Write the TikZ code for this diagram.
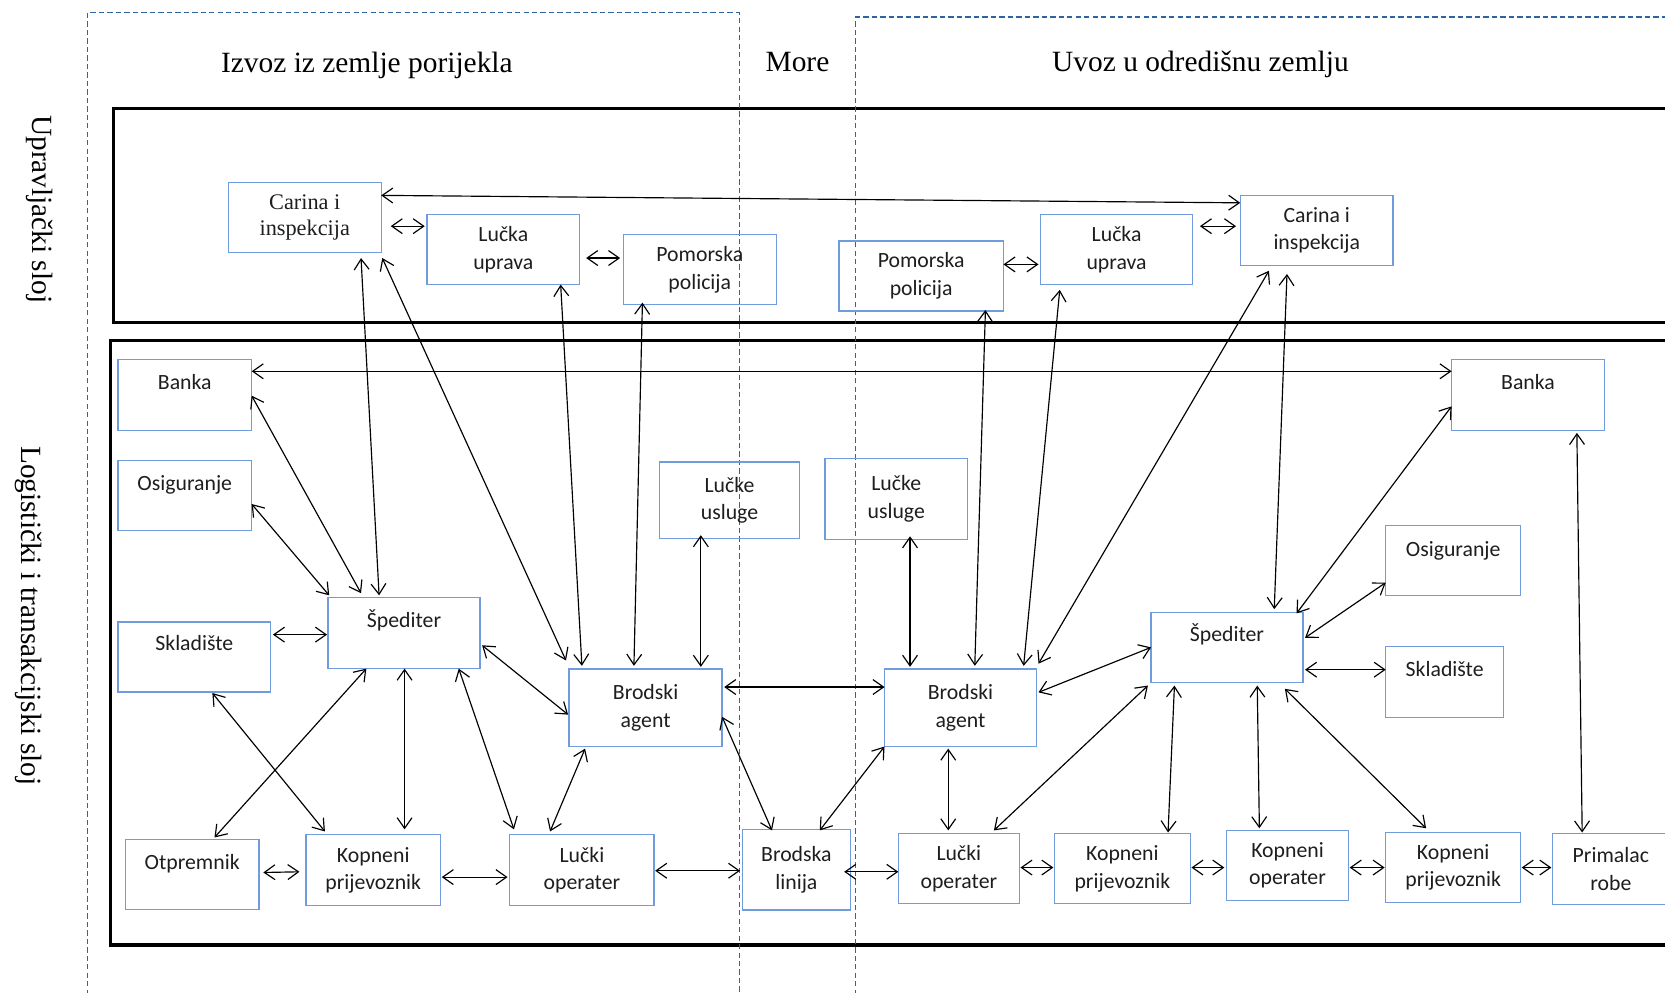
\documentclass[tikz,border=0pt]{standalone}
\usepackage{fontspec}
\setmainfont{Liberation Serif}
\newfontfamily\calfont{Carlito}
\usetikzlibrary{arrows.meta,calc}
\definecolor{boxblue}{RGB}{112,156,222}
\definecolor{dashblue}{RGB}{46,100,160}
\definecolor{txt}{RGB}{30,30,30}
\begin{document}
\begin{tikzpicture}[x=1pt,y=-1pt,
  box/.style={draw=boxblue, line width=1.3pt, inner sep=0pt, align=center, text=txt, font=\calfont\fontsize{20.5}{26}\selectfont},
  timesbox/.style={box, font=\fontsize{21}{25}\selectfont},
  topbox/.style 2 args={box, anchor=north, text height=#1, text depth=#2},
  link/.style={{Straight Barb[length=10pt,width=14pt]}-{Straight Barb[length=10pt,width=14pt]}, line width=1.1pt},
  layerbox/.style={draw=black, line width=3pt},
  region/.style={draw=dashblue, dash pattern=on 5pt off 3pt, line width=1pt},
  head/.style={font=\fontsize{27.7}{33}\selectfont, anchor=base, inner sep=0pt},
  side/.style={font=\fontsize{27.6}{33}\selectfont, rotate=-90, inner sep=0pt}
]
\useasboundingbox (0,0) rectangle (1568,935);
\clip (0,0) rectangle (1568,935);

% layers
\draw[layerbox] (107,102) rectangle (1620,304);
\draw[layerbox] (104,321) rectangle (1620,890);

% regions
\draw[region] (82,945) -- (82,12) -- (696,12) -- (696,945);
\draw[region] (806,945) -- (806,16) -- (1620,16);

% headers
\node[head] (hIzvoz) at (345.5,68) {Izvoz iz zemlje porijekla};
\node[head] (hMore) at (751,67) {More};
\node[head] (hUvoz) at (1130.5,67) {Uvoz u odredišnu zemlju};
\node[side] (lUpr) at (37,197) {Upravljački sloj};
\node[side] (lLog) at (27,580) {Logistički i transakcijski sloj};

% upper layer
\node[timesbox, minimum width=144pt, minimum height=66pt] (CarinaL) at (287,205) {Carina i\\inspekcija};
\node[box, minimum width=144pt, minimum height=66pt] (LUL) at (474,235) {Lučka\\uprava};
\node[box, minimum width=144pt, minimum height=66pt] (PoL) at (659,254) {Pomorska\\policija};
\node[box, minimum width=155pt, minimum height=66pt] (PoR) at (867.5,260) {Pomorska\\policija};
\node[box, minimum width=143pt, minimum height=66pt] (LUR) at (1051.5,235) {Lučka\\uprava};
\node[box, minimum width=144pt, minimum height=66pt] (CarinaR) at (1240,217) {Carina i\\inspekcija};

% lower layer
\node[topbox={28pt}{39pt}, minimum width=126pt] (BankaL) at (174,338) {Banka};
\node[topbox={28pt}{38pt}, minimum width=126pt] (OsL) at (174,433) {Osiguranje};
\node[topbox={27pt}{39pt}, minimum width=144pt] (SkL) at (183,585) {Skladište};
\node[topbox={28pt}{39pt}, minimum width=143pt] (SpL) at (380.5,562) {Špediter};
\node[topbox={28pt}{38pt}, minimum width=126pt] (OtL) at (181,790) {Otpremnik};
\node[topbox={28pt}{39pt}, minimum width=144pt] (BankaR) at (1439,338) {Banka};
\node[topbox={29pt}{37pt}, minimum width=127pt] (OsR) at (1368.5,494) {Osiguranje};
\node[topbox={28pt}{39pt}, minimum width=111pt] (SkR) at (1360.5,608) {Skladište};
\node[topbox={27pt}{39pt}, minimum width=143pt] (SpR) at (1155.5,576) {Špediter};

\node[box, minimum width=132pt, minimum height=72pt] (LuUsL) at (687,471) {Lučke\\usluge};
\node[box, minimum width=134pt, minimum height=76pt] (LuUsR) at (844,470) {Lučke\\usluge};
\node[box, minimum width=144pt, minimum height=73pt] (BAL) at (608,666.5) {Brodski\\agent};
\node[box, minimum width=143pt, minimum height=73pt] (BAR) at (904.5,666.5) {Brodski\\agent};
\node[box, minimum width=127pt, minimum height=67pt] (KPL) at (351.5,819.5) {Kopneni\\prijevoznik};
\node[box, minimum width=136pt, minimum height=67pt] (LOL) at (548,819.5) {Lučki\\operater};
\node[box, minimum width=102pt, minimum height=76pt] (BL) at (750,819) {Brodska\\linija};
\node[box, minimum width=114pt, minimum height=66pt] (LOR) at (903,818) {Lučki\\operater};
\node[box, minimum width=128pt, minimum height=66pt] (KPR1) at (1057,818) {Kopneni\\prijevoznik};
\node[box, minimum width=115pt, minimum height=66pt] (KO) at (1212.5,815) {Kopneni\\operater};
\node[box, minimum width=127pt, minimum height=66pt] (KPR2) at (1368.5,817) {Kopneni\\prijevoznik};
\node[box, minimum width=110pt, minimum height=67pt] (PR) at (1517,818.5) {Primalac\\robe};

% connectors, upper layer
\draw[link] ($(CarinaL)+(72,-21)$) -- ($(CarinaR)+(-72,-26)$);
\draw[link] ($(CarinaL)+(81,8)$) -- ($(LUL)+(-74,-22)$);
\draw[link] ($(LUL)+(78,8)$) -- ($(PoL)+(-75,-11)$);
\draw[link] ($(PoR)+(77.5,-11)$) -- ($(LUR)+(-73.5,14)$);
\draw[link] ($(LUR)+(78.5,-22)$) -- ($(CarinaR)+(-76,-4)$);

% cross-layer
\draw[link] ($(CarinaL)+(53,38)$) -- ($(SpL)+(-23.5,-35.5)$);
\draw[link] ($(CarinaL)+(73,38)$) -- ($(BAL)+(-75,-44.5)$);
\draw[link] ($(LUL)+(54,33)$) -- ($(BAL)+(-60,-39.5)$);
\draw[link] ($(PoL)+(-54,31)$) -- ($(BAL)+(-11,-39.5)$);
\draw[link] ($(PoR)+(60.5,32)$) -- ($(BAR)+(13.5,-39.5)$);
\draw[link] ($(LUR)+(-53.5,38)$) -- ($(BAR)+(59.5,-39.5)$);
\draw[link] ($(CarinaR)+(-45,38)$) -- ($(BAR)+(73.5,-41.5)$);
\draw[link] ($(CarinaR)+(-28,41)$) -- ($(SpR)+(44.5,-36)$);

% lower layer
\draw[link] ($(BankaL)+(63,-22.5)$) -- ($(BankaR)+(-72,-22.5)$);
\draw[link] ($(BankaL)+(63,0.5)$) -- ($(SpL)+(-40.5,-37.5)$);
\draw[link] ($(OsL)+(63,8)$) -- ($(SpL)+(-70.5,-35.5)$);
\draw[link] ($(SkL)+(74,-21)$) -- ($(SpL)+(-72.5,1.5)$);
\draw[link] ($(SkL)+(17,34)$) -- ($(KPL)+(-45.5,-36.5)$);
\draw[link] ($(SpL)+(-35.5,33.5)$) -- ($(OtL)+(21,-35)$);
\draw[link] ($(SpL)+(0.5,33.5)$) -- ($(KPL)+(29.5,-38.5)$);
\draw[link] ($(SpL)+(51.5,33.5)$) -- ($(LOL)+(-64,-38.5)$);
\draw[link] ($(SpL)+(73.5,11.5)$) -- ($(BAL)+(-73,6.5)$);
\draw[link] ($(LuUsL)+(-27,33)$) -- ($(BAL)+(52,-38.5)$);
\draw[link] ($(BAL)+(74,-19.5)$) -- ($(BAR)+(-71.5,-19.5)$);
\draw[link] ($(BAL)+(-57,38.5)$) -- ($(LOL)+(-30,-36.5)$);
\draw[link] ($(BAL)+(72,8.5)$) -- ($(BL)+(-23,-37)$);
\draw[link] ($(OtL)+(67,-2)$) -- ($(KPL)+(-69.5,1.5)$);
\draw[link] ($(KPL)+(64.5,6.5)$) -- ($(LOL)+(-70,6.5)$);
\draw[link] ($(LOL)+(69,0.5)$) -- ($(BL)+(-53,1)$);
\draw[link] ($(BL)+(45,2)$) -- ($(LOR)+(-57,3)$);
\draw[link] ($(BAR)+(-71.5,36.5)$) -- ($(BL)+(22,-37)$);
\draw[link] ($(LuUsR)+(13,35)$) -- ($(BAR)+(-47.5,-38.5)$);
\draw[link] ($(BAR)+(-11.5,38.5)$) -- ($(LOR)+(-10,-36)$);
\draw[link] ($(BAR)+(73.5,-14.5)$) -- ($(SpR)+(-71.5,0)$);
\draw[link] ($(SpR)+(-74.5,36)$) -- ($(LOR)+(33,-36)$);
\draw[link] ($(SpR)+(-49.5,36)$) -- ($(KPR1)+(43,-34)$);
\draw[link] ($(SpR)+(28.5,36)$) -- ($(KO)+(-26.5,-35)$);
\draw[link] ($(SpR)+(54.5,39)$) -- ($(KPR2)+(-25.5,-37)$);
\draw[link] ($(SpR)+(73.5,21)$) -- ($(SkR)+(-55.5,-11.5)$);
\draw[link] ($(SpR)+(73.5,-9)$) -- ($(OsR)+(-63.5,21)$);
\draw[link] ($(SpR)+(65.5,-32)$) -- ($(BankaR)+(-72,10.5)$);
\draw[link] ($(BankaR)+(46,35.5)$) -- ($(PR)+(-27,-34.5)$);
\draw[link] ($(LOR)+(58,-1)$) -- ($(KPR1)+(-65,-1)$);
\draw[link] ($(KPR1)+(65,-1)$) -- ($(KO)+(-59.5,2)$);
\draw[link] ($(KO)+(58.5,2)$) -- ($(KPR2)+(-64.5,0)$);
\draw[link] ($(KPR2)+(64.5,0)$) -- ($(PR)+(-56,-1.5)$);
\end{tikzpicture}
\end{document}
